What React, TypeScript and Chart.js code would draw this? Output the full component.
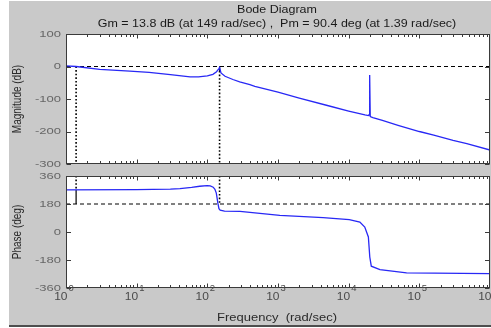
import React, { useEffect, useRef } from 'react';
import { Chart, registerables } from 'chart.js';

Chart.register(...registerables);

const FONT = '"Liberation Sans", Arial, Helvetica, sans-serif';
const BLUE = 'rgb(40,40,245)';

// ---- axes / ticks ----
const freqMin = 1;
const freqMax = 1e6;
const xTickExponents = [0, 1, 2, 3, 4, 5, 6];
const magTicks = [-300, -200, -100, 0, 100];
const phaseTicks = [-360, -180, 0, 180, 360];

// ---- magnitude response (rad/sec, dB) ----
const magFreq = [1, 1.39, 3, 8, 15, 30, 57, 75, 100, 120, 135, 145, 149, 156, 178, 230, 287, 400, 470, 1000, 2000, 5000, 10000, 17000, 19000, 19500, 19700, 19800, 20000, 20200, 22000, 30000, 50000, 100000, 160000, 300000, 470000, 1000000];
const magDb = [2, 0, -9, -14, -18, -25, -32, -32, -29, -24, -16, -7, -3, -20, -30, -40, -47, -56, -61, -79, -97, -120, -137, -149, -151, -148, -104, -150, -26, -154, -157, -166, -181, -200, -211, -227, -237, -257];

// ---- phase response (rad/sec, deg) ----
const phaseFreq = [1, 10, 17, 30, 41, 60, 78, 99, 110, 121, 128, 134, 141, 146, 152, 175, 290, 1060, 4350, 10200, 14400, 16900, 19000, 19900, 20900, 27700, 66000, 1000000];
const phaseDeg = [271, 272, 274, 276, 279, 287, 294, 298, 296, 288, 275, 250, 185, 150, 140, 134, 132, 107, 92, 80, 64, 32, -32, -161, -220, -242, -263, -267];

// ---- stability margins ----
const gmDb = 13.8;
const gmFreq = 149;
const pmDeg = 90.4;
const pmFreq = 1.39;
const phaseRef = 180;

const titleLines = [
  'Bode Diagram',
  `Gm = ${gmDb} dB (at ${gmFreq} rad/sec) ,  Pm = ${pmDeg} deg (at ${pmFreq} rad/sec)`,
];
const magLabel = 'Magnitude (dB)';
const phaseLabel = 'Phase (deg)';
const freqLabel = 'Frequency  (rad/sec)';

type TextOpts = {
  size: number;
  sy?: number;
  align?: CanvasTextAlign;
  baseline?: CanvasTextBaseline;
  rot?: number;
  color?: string;
};

function drawText(ctx: CanvasRenderingContext2D, text: string, x: number, y: number, o: TextOpts) {
  ctx.save();
  ctx.translate(x, y);
  ctx.scale(1, o.sy ?? 1);
  if (o.rot) ctx.rotate(o.rot);
  ctx.font = `${o.size}px ${FONT}`;
  ctx.fillStyle = o.color ?? '#222';
  ctx.textAlign = o.align ?? 'center';
  ctx.textBaseline = o.baseline ?? 'middle';
  ctx.fillText(text, 0, 0);
  ctx.restore();
}

function line(data: { x: number; y: number }[], dash: number[], width = 1) {
  return {
    data,
    borderColor: '#000',
    borderWidth: width,
    borderDash: dash,
    pointRadius: 0,
    tension: 0,
  };
}

type PanelCfg = {
  yTicks: number[];
  yLabel: string;
  showTitle: boolean;
  showX: boolean;
  offsetY: number; // canvas top in page coords
};

function panelPlugin(cfg: PanelCfg) {
  return {
    id: 'panel',
    beforeDraw(chart: any) {
      const { ctx, chartArea: a } = chart;
      ctx.save();
      ctx.fillStyle = '#ffffff';
      ctx.fillRect(a.left, a.top, a.right - a.left, a.bottom - a.top);
      ctx.restore();
    },
    afterDraw(chart: any) {
      const { ctx, chartArea: a } = chart;
      const xs = chart.scales.x;
      const ys = chart.scales.y;
      const L = Math.round(a.left) + 0.5;
      const R = Math.round(a.right) - 0.5;
      const T = Math.round(a.top) + 0.5;
      const B = Math.round(a.bottom) - 0.5;
      ctx.save();
      ctx.strokeStyle = '#3a3a3a';
      ctx.lineWidth = 1;
      ctx.beginPath();
      // x ticks (log, with minors) on top and bottom
      for (let e = xTickExponents[0]; e < xTickExponents[xTickExponents.length - 1]; e++) {
        for (let m = 1; m <= 9; m++) {
          const v = m * Math.pow(10, e);
          const px = Math.round(xs.getPixelForValue(v)) + 0.5;
          const len = m === 1 ? 4 : 2.5;
          ctx.moveTo(px, T);
          ctx.lineTo(px, T + len);
          ctx.moveTo(px, B);
          ctx.lineTo(px, B - len);
        }
      }
      // y ticks on left and right
      for (const t of cfg.yTicks) {
        const py = Math.round(ys.getPixelForValue(t)) + 0.5;
        ctx.moveTo(L, py);
        ctx.lineTo(L + 4.5, py);
        ctx.moveTo(R, py);
        ctx.lineTo(R - 4.5, py);
      }
      ctx.stroke();
      ctx.strokeRect(L, T, R - L, B - T);
      ctx.restore();

      // y tick labels
      for (const t of cfg.yTicks) {
        const py = ys.getPixelForValue(t);
        drawText(ctx, String(t), a.left - 5, py, { size: 13, sy: 0.75, align: 'right', color: '#666' });
      }
      // y axis title
      drawText(ctx, cfg.yLabel, 18, (a.top + a.bottom) / 2, {
        size: 12.5,
        sy: 0.8,
        rot: -Math.PI / 2,
        color: '#2a2a2a',
      });

      if (cfg.showTitle) {
        const cx = (a.left + a.right) / 2 - 1;
        drawText(ctx, titleLines[0], cx, 10, { size: 12.5, sy: 0.8, color: '#1a1a1a' });
        drawText(ctx, titleLines[1], cx, 24, { size: 12.5, sy: 0.8, color: '#1a1a1a' });
      }

      if (cfg.showX) {
        for (const e of xTickExponents) {
          const px = xs.getPixelForValue(Math.pow(10, e));
          drawText(ctx, '10', px + 1.5, 300 - cfg.offsetY, {
            size: 12,
            sy: 0.9,
            align: 'right',
            baseline: 'alphabetic',
            color: '#4a4a4a',
          });
          drawText(ctx, String(e), px + 2.5, 291 - cfg.offsetY, {
            size: 9.5,
            sy: 0.95,
            align: 'left',
            baseline: 'alphabetic',
            color: '#4a4a4a',
          });
        }
        drawText(ctx, freqLabel, (a.left + a.right) / 2 - 1, 318.5 - cfg.offsetY, {
          size: 13,
          sy: 0.8,
          color: '#2a2a2a',
        });
      }
    },
  };
}

export default function App() {
  const topRef = useRef<HTMLCanvasElement>(null);
  const botRef = useRef<HTMLCanvasElement>(null);

  useEffect(() => {
    if (!topRef.current || !botRef.current) return;
    const magMin = magTicks[0];
    const magMax = magTicks[magTicks.length - 1];
    const phMin = phaseTicks[0];
    const phMax = phaseTicks[phaseTicks.length - 1];

    const baseOptions = (padding: any, yMin: number, yMax: number) => ({
      animation: false as const,
      responsive: false,
      events: [] as any[],
      layout: { padding },
      scales: {
        x: { type: 'logarithmic' as const, min: freqMin, max: freqMax, display: false },
        y: { type: 'linear' as const, min: yMin, max: yMax, display: false },
      },
      plugins: {
        legend: { display: false },
        tooltip: { enabled: false },
        title: { display: false },
      },
    });

    const top = new Chart(topRef.current, {
      type: 'line',
      data: {
        datasets: [
          {
            data: magFreq.map((f, i) => ({ x: f, y: magDb[i] })),
            borderColor: BLUE,
            borderWidth: 1.3,
            pointRadius: 0,
            tension: 0,
          },
          line([{ x: freqMin, y: 0 }, { x: freqMax, y: 0 }], [4, 3]),
          line([{ x: pmFreq, y: 0 }, { x: pmFreq, y: magMin }], [1.6, 2], 1.6),
          line([{ x: gmFreq, y: 0 }, { x: gmFreq, y: -gmDb }], [], 1),
          line([{ x: gmFreq, y: -gmDb }, { x: gmFreq, y: magMin }], [1.6, 2], 1.6),
        ] as any,
      },
      options: baseOptions({ left: 66, right: 1, top: 34, bottom: 11 }, magMin, magMax) as any,
      plugins: [panelPlugin({ yTicks: magTicks, yLabel: magLabel, showTitle: true, showX: false, offsetY: 0 })],
    });

    const bottom = new Chart(botRef.current, {
      type: 'line',
      data: {
        datasets: [
          {
            data: phaseFreq.map((f, i) => ({ x: f, y: phaseDeg[i] })),
            borderColor: BLUE,
            borderWidth: 1.3,
            pointRadius: 0,
            tension: 0,
          },
          line([{ x: freqMin, y: phaseRef }, { x: freqMax, y: phaseRef }], [4, 3]),
          line([{ x: pmFreq, y: phMax }, { x: pmFreq, y: phaseRef + pmDeg }], [1.6, 2], 1.6),
          line([{ x: pmFreq, y: phaseRef + pmDeg }, { x: pmFreq, y: phaseRef }], [], 1.2),
          line([{ x: gmFreq, y: phMax }, { x: gmFreq, y: phaseRef }], [1.6, 2], 1.6),
        ] as any,
      },
      options: baseOptions({ left: 66, right: 1, top: 16, bottom: 40 }, phMin, phMax) as any,
      plugins: [panelPlugin({ yTicks: phaseTicks, yLabel: phaseLabel, showTitle: false, showX: true, offsetY: 160 })],
    });

    return () => {
      top.destroy();
      bottom.destroy();
    };
  }, []);

  return (
    <div style={{ position: 'fixed', left: 0, top: 0, width: 491, height: 328, background: '#ffffff', overflow: 'hidden' }}>
      <div style={{ position: 'absolute', left: 9, top: 1, width: 482, height: 324, background: '#c9c9c9' }} />
      <div style={{ position: 'absolute', left: 9, top: 325, width: 482, height: 2, background: '#4e4e4e' }} />
      <canvas ref={topRef} width={491} height={175} style={{ position: 'absolute', left: 0, top: 0 }} />
      <canvas ref={botRef} width={491} height={168} style={{ position: 'absolute', left: 0, top: 160 }} />
    </div>
  );
}
